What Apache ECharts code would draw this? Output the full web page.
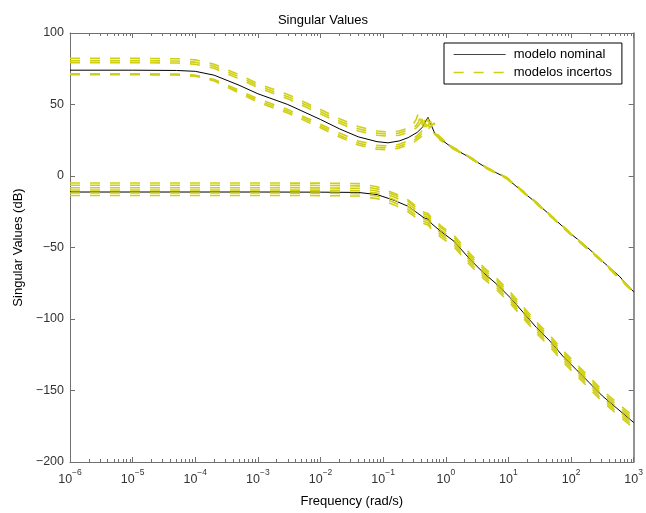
<!DOCTYPE html>
<html>
<head>
<meta charset="utf-8">
<script src="https://cdn.jsdelivr.net/npm/echarts@6/dist/echarts.min.js"></script>
<style>
html,body{margin:0;padding:0;background:#fff;}
#chart{width:646px;height:513px;}
</style>
</head>
<body>
<div id="chart"></div>
<script>
// ---------- data ----------
const titleText = 'Singular Values';
const xName = 'Frequency (rad/s)';
const yName = 'Singular Values (dB)';
const legendNames = ['modelo nominal', 'modelos incertos'];
const xMajorTicks = [1e-6, 1e-5, 1e-4, 1e-3, 1e-2, 1e-1, 1e0, 1e1, 1e2, 1e3];
const yTicks = [-200, -150, -100, -50, 0, 50, 100];

// nominal model, upper singular value
const wNomUp = [1e-6, 1e-5, 5e-5, 1e-4, 2e-4, 5e-4, 1e-3, 3e-3, 1e-2, 2e-2, 4e-2, 0.08, 0.12, 0.18, 0.25, 0.35, 0.43, 0.48, 0.52, 0.56, 0.65, 0.73, 1.19, 2.47, 4.5, 6.5, 9.4, 15.3, 28, 52, 95, 174, 316, 590, 1000];
const nomUpper = [74, 74, 73.8, 73.2, 70.5, 63.5, 57.5, 50, 39.5, 33, 27.4, 24, 23.2, 24.5, 26.8, 30.5, 34.4, 38.5, 41, 37.5, 31, 27.6, 20.6, 12.6, 5.6, 2.1, -1.4, -9.6, -18.8, -29.3, -39.8, -49.1, -59.6, -70.1, -81];

// nominal model, lower singular value
const wNomLow = [1e-6, 1e-3, 1e-2, 0.04, 0.08, 0.15, 0.25, 0.35, 0.45, 0.48, 0.52, 0.6, 0.83, 1.35, 2.45, 4, 6.6, 10.7, 17.4, 28, 46, 74, 120, 195, 316, 525, 1000];
const nomLower = [-11.2, -11.2, -11.3, -11.5, -13, -17, -21.2, -25.8, -29.3, -29.8, -30.2, -33.5, -38.7, -45.6, -58.4, -67.7, -75.9, -85.1, -95.6, -106, -115.4, -126, -135.2, -144.5, -153.8, -162, -172.4];

// uncertain models, upper singular value
const wUncUp = [1e-6, 1e-5, 5e-5, 1e-4, 2e-4, 5e-4, 1e-3, 3e-3, 1e-2, 2e-2, 4e-2, 0.08, 0.12, 0.18, 0.25, 0.3, 0.34, 0.37, 0.4, 0.43, 0.47, 0.52, 0.57, 0.65, 0.8, 1.2, 2.5, 4.5, 9.4, 28, 95, 316, 1000];
const uncUp1 = [82.3, 82.3, 82.0, 81.2, 78.2, 70.8, 64.6, 57, 46.5, 40, 34.6, 31.5, 30.8, 31.5, 33.5, 36, 40, 45, 39, 35, 33.8, 33, 32, 30, 27, 21, 13, 6, -1, -18.3, -39.3, -59.2, -80.5];
const uncUp2 = [80.7, 80.7, 80.4, 79.6, 76.7, 69.4, 63.2, 55.5, 45, 38.5, 33, 30, 29.3, 30, 32, 33.8, 35.5, 38, 43.5, 37.5, 35, 34, 33, 30.5, 27.3, 20.8, 12.8, 5.8, -1.2, -18.6, -39.6, -59.4, -80.8];
const uncUp3 = [79.3, 79.3, 79, 78.2, 75.3, 68, 61.8, 54, 43.5, 37, 31.5, 28.5, 27.8, 28.5, 30.5, 32.2, 33.8, 35.5, 37.5, 42, 36.5, 35, 33.5, 31, 27.6, 20.7, 12.7, 5.7, -1.3, -18.7, -39.7, -59.5, -80.9];
const uncUp4 = [71.5, 71.5, 71.3, 70.5, 67.5, 60, 54, 46.5, 36.2, 30, 24.5, 21.5, 21, 22.2, 24.5, 26.3, 27.8, 29.3, 30.8, 32.5, 35.5, 40, 34, 29.5, 26.2, 20.3, 12.4, 5.4, -1.6, -19, -40, -59.8, -81.2];
const uncUp5 = [71.2, 71.2, 71, 70.2, 67, 59, 52.8, 45.2, 35, 28.5, 23, 20, 19.6, 20.8, 23, 24.8, 26.3, 27.7, 29, 30.5, 32.5, 35, 38.5, 31, 25.8, 20.1, 12.3, 5.3, -1.7, -19.2, -40.2, -60, -81.4];
const uncUp6 = [70.8, 70.8, 70.6, 69.8, 66.5, 58, 51.6, 44, 33.7, 27.2, 21.7, 18.7, 18.3, 19.5, 21.7, 23.4, 24.9, 26.2, 27.4, 28.8, 30.6, 32.5, 34.5, 37, 25.3, 19.9, 12.2, 5.2, -1.8, -19.3, -40.3, -60.1, -81.5];

// uncertain models, lower singular value
const wUncLow = [1e-6, 1e-3, 1e-2, 0.04, 0.08, 0.15, 0.25, 0.35, 0.45, 0.52, 0.6, 0.83, 1.35, 2.45, 4, 6.6, 10.7, 17.4, 28, 46, 74, 120, 195, 316, 525, 1000];
const uncLow1 = [-4.9, -4.9, -5.0, -5.3, -7.5, -12, -16.7, -21.8, -25.3, -26.2, -29.5, -34.7, -41.6, -54.4, -63.7, -71.9, -81.1, -91.6, -102, -111.4, -122, -131.2, -140.5, -149.8, -158, -168.4];
const uncLow2 = [-6.5, -6.5, -6.6, -6.9, -9, -13.2, -17.7, -22.8, -26.5, -27.5, -30.8, -36, -43, -55.9, -65.2, -73.4, -82.6, -93.1, -103.5, -112.9, -123.5, -132.7, -142, -151.3, -159.5, -169.9];
const uncLow3 = [-8.2, -8.2, -8.3, -8.6, -10.5, -14.7, -19.5, -24.5, -28, -29, -32.3, -37.6, -44.6, -57.4, -66.7, -74.9, -84.1, -94.6, -105, -114.4, -125, -134.2, -143.5, -152.8, -161, -171.4];
const uncLow4 = [-9.8, -9.8, -9.9, -10.2, -12, -16.5, -21.5, -26.5, -30.2, -31.3, -34.6, -39.8, -46.6, -59.4, -68.7, -76.9, -86.1, -96.6, -107, -116.4, -127, -136.2, -145.5, -154.8, -163, -173.4];
const uncLow5 = [-11.9, -11.9, -12, -12.3, -14, -18.5, -23.3, -28.2, -31.8, -32.8, -36, -41.2, -48.1, -60.9, -70.2, -78.4, -87.6, -98.1, -108.5, -117.9, -128.5, -137.7, -147, -156.3, -164.5, -174.9];
const uncLow6 = [-13.6, -13.6, -13.7, -14, -15.8, -20.2, -25, -29.8, -33.3, -34.2, -37.5, -42.7, -49.6, -62.4, -71.7, -79.9, -89.1, -99.6, -110, -119.4, -130, -139.2, -148.5, -157.8, -166, -176.4];

// ---------- chart ----------
const FONT = '"Liberation Sans", Arial, Helvetica, sans-serif';
const AXIS_COLOR = '#707070';
const LABEL_COLOR = '#333';
const YELLOW = '#cfcf16';

const xMinorTicks = [];
for (let e = -6; e < 3; e++) for (let m = 2; m <= 9; m++) xMinorTicks.push(m * Math.pow(10, e));

function pairs(xs, ys) { return xs.map((x, i) => [x, ys[i]]); }

const minus = s => String(s).replace('-', '\u2212');

function nominal(xs, ys) {
  return { name: legendNames[0], type: 'line', data: pairs(xs, ys), showSymbol: false, symbol: 'none',
    lineStyle: { color: '#000', width: 1 }, itemStyle: { color: '#000' }, smooth: false, z: 2 };
}
function uncertain(xs, ys) {
  return { name: legendNames[1], type: 'line', data: pairs(xs, ys), showSymbol: false, symbol: 'none',
    lineStyle: { color: YELLOW, width: 1.6, type: [10, 10] }, itemStyle: { color: YELLOW }, z: 3 };
}

const baseX = { type: 'log', logBase: 10, min: 1e-6, max: 1e3, gridIndex: 0, offset: 0,
  splitLine: { show: false }, axisLine: { show: true, onZero: false, lineStyle: { color: AXIS_COLOR, width: 1 } } };

const option = {
  animation: false,
  backgroundColor: '#fff',
  title: { text: titleText, left: 'center', top: 9, textStyle: { fontFamily: FONT, fontSize: 13, fontWeight: 'normal', color: '#000' } },
  grid: { left: 70, right: 8, top: 33, bottom: 50, containLabel: false },
  legend: {
    data: [
      { name: legendNames[0], lineStyle: { width: 1, color: '#444' } },
      { name: legendNames[1], lineStyle: { width: 1.3 } }
    ],
    orient: 'vertical', left: 444, top: 43,
    padding: [5, 10, 5, 9], itemWidth: 52, itemHeight: 14, itemGap: 5,
    borderColor: '#000', borderWidth: 1, backgroundColor: '#fff',
    itemStyle: { opacity: 0 },
    textStyle: { fontFamily: FONT, fontSize: 13, color: '#000', padding: [0, 0, 0, 3] },
    selectedMode: false
  },
  xAxis: [
    Object.assign({}, baseX, {
      position: 'bottom',
      name: xName, nameLocation: 'middle', nameGap: 33,
      nameTextStyle: { fontFamily: FONT, fontSize: 13, color: '#000' },
      axisTick: { show: true, inside: true, length: 5, customValues: xMajorTicks, lineStyle: { color: AXIS_COLOR } },
      axisLabel: { show: true, customValues: xMajorTicks, margin: 6,
        formatter: v => '{b|10}{s|' + minus(Math.round(Math.log10(v))) + '}',
        rich: {
          b: { fontFamily: FONT, fontSize: 12.5, color: LABEL_COLOR, lineHeight: 18, verticalAlign: 'bottom' },
          s: { fontFamily: FONT, fontSize: 8.5, color: LABEL_COLOR, lineHeight: 18, verticalAlign: 'top' }
        } }
    }),
    Object.assign({}, baseX, { position: 'bottom', axisLine: { show: false, onZero: false },
      axisTick: { show: true, inside: true, length: 3, customValues: xMinorTicks, lineStyle: { color: AXIS_COLOR } },
      axisLabel: { show: false } }),
    Object.assign({}, baseX, { position: 'top',
      axisTick: { show: true, inside: true, length: 5, customValues: xMajorTicks, lineStyle: { color: AXIS_COLOR } },
      axisLabel: { show: false } }),
    Object.assign({}, baseX, { position: 'top', axisLine: { show: false, onZero: false },
      axisTick: { show: true, inside: true, length: 3, customValues: xMinorTicks, lineStyle: { color: AXIS_COLOR } },
      axisLabel: { show: false } })
  ],
  yAxis: [
    { type: 'value', position: 'left', min: yTicks[0], max: yTicks[yTicks.length - 1], interval: 50, offset: 0,
      name: yName, nameLocation: 'middle', nameGap: 43, nameRotate: 90,
      nameTextStyle: { fontFamily: FONT, fontSize: 13, color: '#000' },
      splitLine: { show: false },
      axisLine: { show: true, onZero: false, lineStyle: { color: AXIS_COLOR } },
      axisTick: { show: true, inside: true, length: 5, lineStyle: { color: AXIS_COLOR } },
      axisLabel: { margin: 6, fontFamily: FONT, fontSize: 12.5, color: LABEL_COLOR, formatter: v => minus(v) } },
    { type: 'value', position: 'right', min: yTicks[0], max: yTicks[yTicks.length - 1], interval: 50, offset: 0,
      splitLine: { show: false },
      axisLine: { show: true, onZero: false, lineStyle: { color: AXIS_COLOR, width: 1.5 } },
      axisTick: { show: true, inside: true, length: 5, lineStyle: { color: AXIS_COLOR } },
      axisLabel: { show: false } }
  ],
  series: [
    nominal(wNomUp, nomUpper),
    nominal(wNomLow, nomLower),
    uncertain(wUncUp, uncUp1), uncertain(wUncUp, uncUp2), uncertain(wUncUp, uncUp3),
    uncertain(wUncUp, uncUp4), uncertain(wUncUp, uncUp5), uncertain(wUncUp, uncUp6),
    uncertain(wUncLow, uncLow1), uncertain(wUncLow, uncLow2), uncertain(wUncLow, uncLow3),
    uncertain(wUncLow, uncLow4), uncertain(wUncLow, uncLow5), uncertain(wUncLow, uncLow6)
  ]
};

const chart = echarts.init(document.getElementById('chart'), null, { renderer: 'canvas' });
chart.setOption(option);
</script>
</body>
</html>
